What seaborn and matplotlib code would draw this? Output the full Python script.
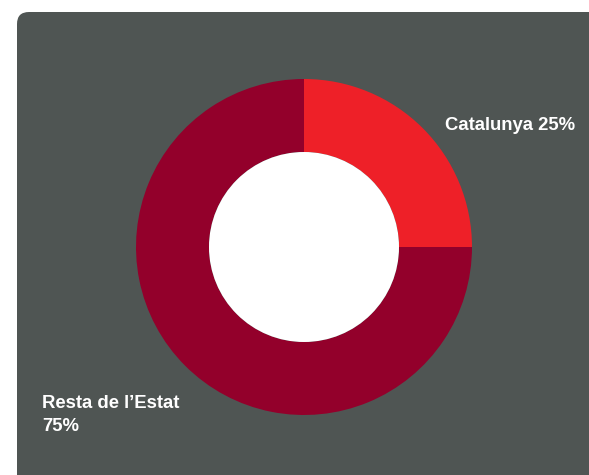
import matplotlib
matplotlib.use("Agg")
import matplotlib.pyplot as plt
import seaborn as sns
from matplotlib.patches import FancyBboxPatch, Circle

labels = ["Catalunya", "Resta de l\u2019Estat"]
shares = [25, 75]
colors = ["#EE2028", "#93002B"]
panel_color = "#4F5553"

sns.set_style("white")
plt.rcParams['font.family'] = ['Liberation Sans', 'DejaVu Sans']

fig = plt.figure(figsize=(5.89, 4.75), dpi=100)
fig.patch.set_facecolor("white")

# background panel in pixel coords
bg = fig.add_axes([0, 0, 1, 1])
bg.set_xlim(0, 589)
bg.set_ylim(475, 0)
bg.axis("off")
bg.add_patch(FancyBboxPatch((17, 12), 640, 520, boxstyle="round,pad=0,rounding_size=12",
                            facecolor=panel_color, edgecolor="none"))

# donut
cx, cy, r, r_in = 304, 247, 168, 95
pie_ax = fig.add_axes([(cx - r) / 589, (475 - cy - r) / 475, 2 * r / 589, 2 * r / 475])
pie_ax.pie(shares, colors=colors, startangle=90, counterclock=False,
           wedgeprops=dict(width=1 - r_in / r, edgecolor="none"))
pie_ax.add_patch(Circle((0, 0), r_in / r, facecolor="white", edgecolor="none"))
pie_ax.set_xlim(-1, 1)
pie_ax.set_ylim(-1, 1)
pie_ax.set_aspect("auto")
pie_ax.axis("off")

bg.text(445, 126, f"{labels[0]} {shares[0]}%", color="white", fontsize=13.3,
        fontweight="bold", ha="left", va="center")
bg.text(42, 415, f"{labels[1]}\n{shares[1]}%", color="white", fontsize=13.3,
        fontweight="bold", ha="left", va="center", linespacing=1.4)

fig.savefig("out.png", dpi=100)
